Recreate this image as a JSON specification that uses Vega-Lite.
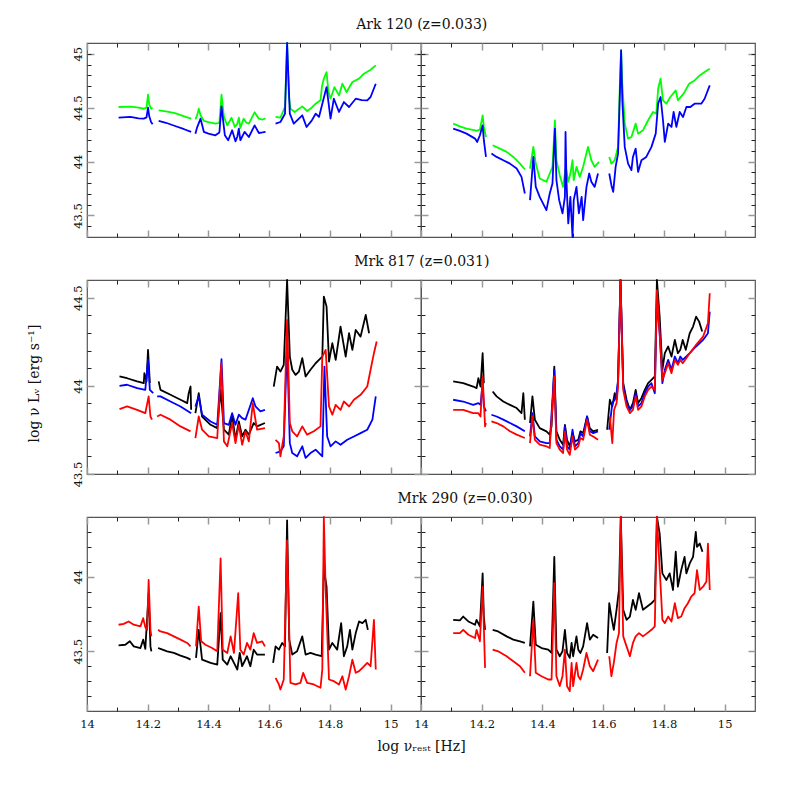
{
"$schema":"https://vega.github.io/schema/vega-lite/v6.json",
"padding":{"left":26,"top":17,"right":10,"bottom":10},
"background":"white",
"config":{"view":{"stroke":"#555","strokeWidth":1.2},"axis":{"domain":false,"grid":false,"minExtent":0,"labelFont":"DejaVu Serif","labelFontSize":11.5,"labelColor":"#111","titleFont":"DejaVu Serif","titleFontSize":14,"titleFontWeight":"normal","titleColor":"#111","labelOverlap":false,"labelFlush":false,"format":"~g"},"line":{"strokeWidth":1.8,"clip":true,"strokeJoin":"round"}},
"datasets":{
"A1":[
{"s":"g","k":"g1","x":14.104,"y":44.506},{"s":"g","k":"g1","x":14.143,"y":44.51},{"s":"g","k":"g1","x":14.17,"y":44.5},{"s":"g","k":"g1","x":14.187,"y":44.49},{"s":"g","k":"g1","x":14.196,"y":44.5},{"s":"g","k":"g1","x":14.201,"y":44.62},{"s":"g","k":"g1","x":14.205,"y":44.53},{"s":"g","k":"g1","x":14.211,"y":44.49},{"s":"g","k":"g1","x":14.216,"y":44.5},
{"s":"g","k":"g2","x":14.236,"y":44.475},{"s":"g","k":"g2","x":14.26,"y":44.465},{"s":"g","k":"g2","x":14.29,"y":44.45},{"s":"g","k":"g2","x":14.32,"y":44.42},{"s":"g","k":"g2","x":14.343,"y":44.398},
{"s":"g","k":"g3","x":14.357,"y":44.392},{"s":"g","k":"g3","x":14.363,"y":44.43},{"s":"g","k":"g3","x":14.368,"y":44.49},{"s":"g","k":"g3","x":14.374,"y":44.43},{"s":"g","k":"g3","x":14.385,"y":44.377},{"s":"g","k":"g3","x":14.4,"y":44.365},{"s":"g","k":"g3","x":14.423,"y":44.352},{"s":"g","k":"g3","x":14.436,"y":44.36},{"s":"g","k":"g3","x":14.443,"y":44.62},{"s":"g","k":"g3","x":14.451,"y":44.414},{"s":"g","k":"g3","x":14.462,"y":44.336},{"s":"g","k":"g3","x":14.476,"y":44.407},{"s":"g","k":"g3","x":14.487,"y":44.321},{"s":"g","k":"g3","x":14.495,"y":44.35},{"s":"g","k":"g3","x":14.5,"y":44.407},{"s":"g","k":"g3","x":14.505,"y":44.312},{"s":"g","k":"g3","x":14.516,"y":44.398},{"s":"g","k":"g3","x":14.525,"y":44.36},{"s":"g","k":"g3","x":14.533,"y":44.352},{"s":"g","k":"g3","x":14.552,"y":44.457},{"s":"g","k":"g3","x":14.566,"y":44.398},{"s":"g","k":"g3","x":14.578,"y":44.39},{"s":"g","k":"g3","x":14.588,"y":44.4},
{"s":"g","k":"g4","x":14.621,"y":44.414},{"s":"g","k":"g4","x":14.637,"y":44.407},{"s":"g","k":"g4","x":14.652,"y":44.506},{"s":"g","k":"g4","x":14.659,"y":45.1},{"s":"g","k":"g4","x":14.665,"y":44.6},{"s":"g","k":"g4","x":14.67,"y":44.491},{"s":"g","k":"g4","x":14.684,"y":44.46},{"s":"g","k":"g4","x":14.709,"y":44.512},{"s":"g","k":"g4","x":14.725,"y":44.469},{"s":"g","k":"g4","x":14.74,"y":44.5},{"s":"g","k":"g4","x":14.753,"y":44.537},{"s":"g","k":"g4","x":14.769,"y":44.568},{"s":"g","k":"g4","x":14.774,"y":44.7},{"s":"g","k":"g4","x":14.78,"y":44.769},{"s":"g","k":"g4","x":14.789,"y":44.83},{"s":"g","k":"g4","x":14.795,"y":44.65},{"s":"g","k":"g4","x":14.802,"y":44.583},{"s":"g","k":"g4","x":14.815,"y":44.691},{"s":"g","k":"g4","x":14.83,"y":44.614},{"s":"g","k":"g4","x":14.841,"y":44.722},{"s":"g","k":"g4","x":14.855,"y":44.645},{"s":"g","k":"g4","x":14.874,"y":44.738},{"s":"g","k":"g4","x":14.896,"y":44.769},{"s":"g","k":"g4","x":14.912,"y":44.815},{"s":"g","k":"g4","x":14.934,"y":44.852},{"s":"g","k":"g4","x":14.951,"y":44.892},
{"s":"b","k":"b1","x":14.104,"y":44.407},{"s":"b","k":"b1","x":14.143,"y":44.414},{"s":"b","k":"b1","x":14.17,"y":44.4},{"s":"b","k":"b1","x":14.187,"y":44.398},{"s":"b","k":"b1","x":14.196,"y":44.41},{"s":"b","k":"b1","x":14.201,"y":44.5},{"s":"b","k":"b1","x":14.205,"y":44.42},{"s":"b","k":"b1","x":14.211,"y":44.367},{"s":"b","k":"b1","x":14.216,"y":44.346},
{"s":"b","k":"b2","x":14.236,"y":44.377},{"s":"b","k":"b2","x":14.26,"y":44.36},{"s":"b","k":"b2","x":14.29,"y":44.33},{"s":"b","k":"b2","x":14.32,"y":44.3},{"s":"b","k":"b2","x":14.343,"y":44.275},
{"s":"b","k":"b3","x":14.357,"y":44.259},{"s":"b","k":"b3","x":14.363,"y":44.32},{"s":"b","k":"b3","x":14.374,"y":44.398},{"s":"b","k":"b3","x":14.385,"y":44.275},{"s":"b","k":"b3","x":14.4,"y":44.26},{"s":"b","k":"b3","x":14.423,"y":44.244},{"s":"b","k":"b3","x":14.436,"y":44.27},{"s":"b","k":"b3","x":14.443,"y":44.512},{"s":"b","k":"b3","x":14.454,"y":44.244},{"s":"b","k":"b3","x":14.465,"y":44.198},{"s":"b","k":"b3","x":14.478,"y":44.29},{"s":"b","k":"b3","x":14.489,"y":44.188},{"s":"b","k":"b3","x":14.495,"y":44.23},{"s":"b","k":"b3","x":14.5,"y":44.306},{"s":"b","k":"b3","x":14.505,"y":44.198},{"s":"b","k":"b3","x":14.519,"y":44.275},{"s":"b","k":"b3","x":14.533,"y":44.228},{"s":"b","k":"b3","x":14.552,"y":44.336},{"s":"b","k":"b3","x":14.566,"y":44.265},{"s":"b","k":"b3","x":14.578,"y":44.27},{"s":"b","k":"b3","x":14.588,"y":44.275},
{"s":"b","k":"b4","x":14.621,"y":44.352},{"s":"b","k":"b4","x":14.637,"y":44.367},{"s":"b","k":"b4","x":14.652,"y":44.444},{"s":"b","k":"b4","x":14.659,"y":45.1},{"s":"b","k":"b4","x":14.668,"y":44.444},{"s":"b","k":"b4","x":14.681,"y":44.352},{"s":"b","k":"b4","x":14.709,"y":44.429},{"s":"b","k":"b4","x":14.723,"y":44.321},{"s":"b","k":"b4","x":14.74,"y":44.38},{"s":"b","k":"b4","x":14.753,"y":44.444},{"s":"b","k":"b4","x":14.764,"y":44.414},{"s":"b","k":"b4","x":14.778,"y":44.568},{"s":"b","k":"b4","x":14.789,"y":44.691},{"s":"b","k":"b4","x":14.802,"y":44.398},{"s":"b","k":"b4","x":14.813,"y":44.583},{"s":"b","k":"b4","x":14.83,"y":44.46},{"s":"b","k":"b4","x":14.846,"y":44.552},{"s":"b","k":"b4","x":14.863,"y":44.506},{"s":"b","k":"b4","x":14.885,"y":44.583},{"s":"b","k":"b4","x":14.905,"y":44.57},{"s":"b","k":"b4","x":14.923,"y":44.568},{"s":"b","k":"b4","x":14.934,"y":44.599},{"s":"b","k":"b4","x":14.951,"y":44.722}
],
"A2":[
{"s":"g","k":"g1","x":14.106,"y":44.352},{"s":"g","k":"g1","x":14.128,"y":44.327},{"s":"g","k":"g1","x":14.15,"y":44.306},{"s":"g","k":"g1","x":14.178,"y":44.29},{"s":"g","k":"g1","x":14.183,"y":44.284},{"s":"g","k":"g1","x":14.194,"y":44.296},{"s":"g","k":"g1","x":14.203,"y":44.429},{"s":"g","k":"g1","x":14.207,"y":44.321},{"s":"g","k":"g1","x":14.214,"y":44.228},
{"s":"g","k":"g2","x":14.236,"y":44.151},{"s":"g","k":"g2","x":14.26,"y":44.12},{"s":"g","k":"g2","x":14.282,"y":44.09},{"s":"g","k":"g2","x":14.304,"y":44.043},{"s":"g","k":"g2","x":14.326,"y":43.981},{"s":"g","k":"g2","x":14.342,"y":43.926},
{"s":"g","k":"g3","x":14.359,"y":43.935},{"s":"g","k":"g3","x":14.37,"y":44.136},{"s":"g","k":"g3","x":14.378,"y":43.981},{"s":"g","k":"g3","x":14.391,"y":43.843},{"s":"g","k":"g3","x":14.413,"y":43.812},{"s":"g","k":"g3","x":14.424,"y":43.889},{"s":"g","k":"g3","x":14.433,"y":43.951},{"s":"g","k":"g3","x":14.441,"y":44.383},{"s":"g","k":"g3","x":14.446,"y":44.012},{"s":"g","k":"g3","x":14.457,"y":43.873},{"s":"g","k":"g3","x":14.468,"y":43.765},{"s":"g","k":"g3","x":14.477,"y":43.951},{"s":"g","k":"g3","x":14.485,"y":43.812},{"s":"g","k":"g3","x":14.492,"y":43.889},{"s":"g","k":"g3","x":14.499,"y":44.012},{"s":"g","k":"g3","x":14.503,"y":43.827},{"s":"g","k":"g3","x":14.512,"y":43.951},{"s":"g","k":"g3","x":14.523,"y":43.858},{"s":"g","k":"g3","x":14.534,"y":43.951},{"s":"g","k":"g3","x":14.55,"y":44.136},{"s":"g","k":"g3","x":14.561,"y":44.012},{"s":"g","k":"g3","x":14.572,"y":43.951},{"s":"g","k":"g3","x":14.586,"y":43.997},
{"s":"g","k":"g4","x":14.62,"y":44.043},{"s":"g","k":"g4","x":14.627,"y":43.981},{"s":"g","k":"g4","x":14.638,"y":44.012},{"s":"g","k":"g4","x":14.649,"y":44.136},{"s":"g","k":"g4","x":14.655,"y":44.722},{"s":"g","k":"g4","x":14.659,"y":45.037},{"s":"g","k":"g4","x":14.663,"y":44.722},{"s":"g","k":"g4","x":14.671,"y":44.352},{"s":"g","k":"g4","x":14.682,"y":44.213},{"s":"g","k":"g4","x":14.693,"y":44.228},{"s":"g","k":"g4","x":14.707,"y":44.352},{"s":"g","k":"g4","x":14.715,"y":44.259},{"s":"g","k":"g4","x":14.731,"y":44.29},{"s":"g","k":"g4","x":14.748,"y":44.383},{"s":"g","k":"g4","x":14.764,"y":44.46},{"s":"g","k":"g4","x":14.775,"y":44.444},{"s":"g","k":"g4","x":14.781,"y":44.676},{"s":"g","k":"g4","x":14.789,"y":44.769},{"s":"g","k":"g4","x":14.797,"y":44.568},{"s":"g","k":"g4","x":14.808,"y":44.537},{"s":"g","k":"g4","x":14.821,"y":44.599},{"s":"g","k":"g4","x":14.839,"y":44.66},{"s":"g","k":"g4","x":14.846,"y":44.568},{"s":"g","k":"g4","x":14.865,"y":44.63},{"s":"g","k":"g4","x":14.883,"y":44.722},{"s":"g","k":"g4","x":14.901,"y":44.753},{"s":"g","k":"g4","x":14.918,"y":44.799},{"s":"g","k":"g4","x":14.934,"y":44.83},{"s":"g","k":"g4","x":14.951,"y":44.861},
{"s":"b","k":"b1","x":14.106,"y":44.306},{"s":"b","k":"b1","x":14.128,"y":44.284},{"s":"b","k":"b1","x":14.15,"y":44.259},{"s":"b","k":"b1","x":14.178,"y":44.213},{"s":"b","k":"b1","x":14.185,"y":44.182},{"s":"b","k":"b1","x":14.194,"y":44.244},{"s":"b","k":"b1","x":14.203,"y":44.336},{"s":"b","k":"b1","x":14.207,"y":44.198},{"s":"b","k":"b1","x":14.214,"y":44.043},
{"s":"b","k":"b2","x":14.232,"y":44.074},{"s":"b","k":"b2","x":14.249,"y":44.043},{"s":"b","k":"b2","x":14.271,"y":44.012},{"s":"b","k":"b2","x":14.293,"y":43.981},{"s":"b","k":"b2","x":14.315,"y":43.935},{"s":"b","k":"b2","x":14.331,"y":43.858},{"s":"b","k":"b2","x":14.342,"y":43.704},
{"s":"b","k":"b3","x":14.359,"y":43.642},{"s":"b","k":"b3","x":14.37,"y":44.043},{"s":"b","k":"b3","x":14.378,"y":43.765},{"s":"b","k":"b3","x":14.391,"y":43.673},{"s":"b","k":"b3","x":14.413,"y":43.549},{"s":"b","k":"b3","x":14.424,"y":43.704},{"s":"b","k":"b3","x":14.433,"y":43.796},{"s":"b","k":"b3","x":14.441,"y":44.306},{"s":"b","k":"b3","x":14.446,"y":43.827},{"s":"b","k":"b3","x":14.455,"y":43.642},{"s":"b","k":"b3","x":14.466,"y":43.519},{"s":"b","k":"b3","x":14.474,"y":43.673},{"s":"b","k":"b3","x":14.476,"y":44.275},{"s":"b","k":"b3","x":14.479,"y":43.827},{"s":"b","k":"b3","x":14.485,"y":43.426},{"s":"b","k":"b3","x":14.492,"y":43.673},{"s":"b","k":"b3","x":14.499,"y":43.3},{"s":"b","k":"b3","x":14.503,"y":43.642},{"s":"b","k":"b3","x":14.512,"y":43.765},{"s":"b","k":"b3","x":14.52,"y":43.519},{"s":"b","k":"b3","x":14.529,"y":43.673},{"s":"b","k":"b3","x":14.534,"y":43.457},{"s":"b","k":"b3","x":14.545,"y":43.765},{"s":"b","k":"b3","x":14.554,"y":43.889},{"s":"b","k":"b3","x":14.561,"y":43.812},{"s":"b","k":"b3","x":14.572,"y":43.765},{"s":"b","k":"b3","x":14.583,"y":43.889},
{"s":"b","k":"b4","x":14.62,"y":43.889},{"s":"b","k":"b4","x":14.627,"y":43.781},{"s":"b","k":"b4","x":14.633,"y":43.719},{"s":"b","k":"b4","x":14.641,"y":43.951},{"s":"b","k":"b4","x":14.649,"y":44.074},{"s":"b","k":"b4","x":14.655,"y":44.63},{"s":"b","k":"b4","x":14.659,"y":45.031},{"s":"b","k":"b4","x":14.663,"y":44.568},{"s":"b","k":"b4","x":14.671,"y":44.136},{"s":"b","k":"b4","x":14.682,"y":43.981},{"s":"b","k":"b4","x":14.693,"y":43.92},{"s":"b","k":"b4","x":14.698,"y":44.043},{"s":"b","k":"b4","x":14.707,"y":44.12},{"s":"b","k":"b4","x":14.715,"y":43.904},{"s":"b","k":"b4","x":14.726,"y":44.012},{"s":"b","k":"b4","x":14.742,"y":44.043},{"s":"b","k":"b4","x":14.759,"y":44.136},{"s":"b","k":"b4","x":14.773,"y":44.259},{"s":"b","k":"b4","x":14.781,"y":44.537},{"s":"b","k":"b4","x":14.789,"y":44.599},{"s":"b","k":"b4","x":14.797,"y":44.383},{"s":"b","k":"b4","x":14.803,"y":44.182},{"s":"b","k":"b4","x":14.814,"y":44.352},{"s":"b","k":"b4","x":14.825,"y":44.321},{"s":"b","k":"b4","x":14.832,"y":44.46},{"s":"b","k":"b4","x":14.841,"y":44.321},{"s":"b","k":"b4","x":14.852,"y":44.46},{"s":"b","k":"b4","x":14.863,"y":44.414},{"s":"b","k":"b4","x":14.874,"y":44.506},{"s":"b","k":"b4","x":14.887,"y":44.506},{"s":"b","k":"b4","x":14.901,"y":44.537},{"s":"b","k":"b4","x":14.923,"y":44.537},{"s":"b","k":"b4","x":14.934,"y":44.583},{"s":"b","k":"b4","x":14.951,"y":44.707}
],
"B1":[
{"s":"k","k":"k1","x":14.107,"y":44.053},{"s":"k","k":"k1","x":14.132,"y":44.043},{"s":"k","k":"k1","x":14.165,"y":44.025},{"s":"k","k":"k1","x":14.187,"y":44.015},{"s":"k","k":"k1","x":14.189,"y":44.072},{"s":"k","k":"k1","x":14.196,"y":44.025},{"s":"k","k":"k1","x":14.201,"y":44.204},{"s":"k","k":"k1","x":14.207,"y":44.015},
{"s":"k","k":"k2","x":14.236,"y":44.025},{"s":"k","k":"k2","x":14.242,"y":43.977},{"s":"k","k":"k2","x":14.275,"y":43.949},{"s":"k","k":"k2","x":14.308,"y":43.921},{"s":"k","k":"k2","x":14.33,"y":43.902},{"s":"k","k":"k2","x":14.335,"y":43.958},{"s":"k","k":"k2","x":14.341,"y":43.996},{"s":"k","k":"k2","x":14.343,"y":43.864},
{"s":"k","k":"k3","x":14.357,"y":43.845},{"s":"k","k":"k3","x":14.368,"y":43.958},{"s":"k","k":"k3","x":14.379,"y":43.826},{"s":"k","k":"k3","x":14.407,"y":43.779},{"s":"k","k":"k3","x":14.429,"y":43.76},{"s":"k","k":"k3","x":14.44,"y":43.977},{"s":"k","k":"k3","x":14.451,"y":43.751},{"s":"k","k":"k3","x":14.467,"y":43.723},{"s":"k","k":"k3","x":14.478,"y":43.836},{"s":"k","k":"k3","x":14.489,"y":43.694},{"s":"k","k":"k3","x":14.5,"y":43.798},{"s":"k","k":"k3","x":14.511,"y":43.713},{"s":"k","k":"k3","x":14.522,"y":43.751},{"s":"k","k":"k3","x":14.533,"y":43.723},{"s":"k","k":"k3","x":14.549,"y":43.789},{"s":"k","k":"k3","x":14.56,"y":43.77},{"s":"k","k":"k3","x":14.586,"y":43.789},
{"s":"k","k":"k4","x":14.615,"y":43.996},{"s":"k","k":"k4","x":14.626,"y":44.109},{"s":"k","k":"k4","x":14.637,"y":44.081},{"s":"k","k":"k4","x":14.648,"y":44.119},{"s":"k","k":"k4","x":14.659,"y":44.6},{"s":"k","k":"k4","x":14.668,"y":44.166},{"s":"k","k":"k4","x":14.676,"y":44.091},{"s":"k","k":"k4","x":14.687,"y":44.062},{"s":"k","k":"k4","x":14.698,"y":44.081},{"s":"k","k":"k4","x":14.709,"y":44.157},{"s":"k","k":"k4","x":14.72,"y":44.053},{"s":"k","k":"k4","x":14.736,"y":44.091},{"s":"k","k":"k4","x":14.753,"y":44.128},{"s":"k","k":"k4","x":14.764,"y":44.147},{"s":"k","k":"k4","x":14.775,"y":44.166},{"s":"k","k":"k4","x":14.78,"y":44.506},{"s":"k","k":"k4","x":14.789,"y":44.449},{"s":"k","k":"k4","x":14.797,"y":44.138},{"s":"k","k":"k4","x":14.808,"y":44.242},{"s":"k","k":"k4","x":14.819,"y":44.147},{"s":"k","k":"k4","x":14.835,"y":44.336},{"s":"k","k":"k4","x":14.852,"y":44.166},{"s":"k","k":"k4","x":14.863,"y":44.298},{"s":"k","k":"k4","x":14.874,"y":44.204},{"s":"k","k":"k4","x":14.885,"y":44.317},{"s":"k","k":"k4","x":14.901,"y":44.279},{"s":"k","k":"k4","x":14.918,"y":44.402},{"s":"k","k":"k4","x":14.929,"y":44.298},
{"s":"b","k":"b1","x":14.107,"y":44.0},{"s":"b","k":"b1","x":14.132,"y":44.006},{"s":"b","k":"b1","x":14.165,"y":43.987},{"s":"b","k":"b1","x":14.192,"y":43.977},{"s":"b","k":"b1","x":14.201,"y":44.147},{"s":"b","k":"b1","x":14.207,"y":43.977},{"s":"b","k":"b1","x":14.218,"y":43.958},
{"s":"b","k":"b2","x":14.231,"y":43.94},{"s":"b","k":"b2","x":14.242,"y":43.94},{"s":"b","k":"b2","x":14.275,"y":43.911},{"s":"b","k":"b2","x":14.308,"y":43.883},{"s":"b","k":"b2","x":14.343,"y":43.845},
{"s":"b","k":"b3","x":14.357,"y":43.883},{"s":"b","k":"b3","x":14.368,"y":43.94},{"s":"b","k":"b3","x":14.379,"y":43.836},{"s":"b","k":"b3","x":14.407,"y":43.798},{"s":"b","k":"b3","x":14.429,"y":43.779},{"s":"b","k":"b3","x":14.443,"y":44.151},{"s":"b","k":"b3","x":14.451,"y":43.789},{"s":"b","k":"b3","x":14.467,"y":43.779},{"s":"b","k":"b3","x":14.478,"y":43.845},{"s":"b","k":"b3","x":14.489,"y":43.779},{"s":"b","k":"b3","x":14.5,"y":43.836},{"s":"b","k":"b3","x":14.511,"y":43.817},{"s":"b","k":"b3","x":14.522,"y":43.808},{"s":"b","k":"b3","x":14.546,"y":43.93},{"s":"b","k":"b3","x":14.555,"y":43.883},{"s":"b","k":"b3","x":14.571,"y":43.855},{"s":"b","k":"b3","x":14.586,"y":43.864},
{"s":"b","k":"b4","x":14.621,"y":43.619},{"s":"b","k":"b4","x":14.637,"y":43.628},{"s":"b","k":"b4","x":14.648,"y":43.657},{"s":"b","k":"b4","x":14.659,"y":44.242},{"s":"b","k":"b4","x":14.668,"y":43.675},{"s":"b","k":"b4","x":14.676,"y":43.619},{"s":"b","k":"b4","x":14.692,"y":43.6},{"s":"b","k":"b4","x":14.709,"y":43.657},{"s":"b","k":"b4","x":14.72,"y":43.591},{"s":"b","k":"b4","x":14.736,"y":43.619},{"s":"b","k":"b4","x":14.753,"y":43.638},{"s":"b","k":"b4","x":14.775,"y":43.6},{"s":"b","k":"b4","x":14.782,"y":44.109},{"s":"b","k":"b4","x":14.791,"y":43.713},{"s":"b","k":"b4","x":14.802,"y":43.657},{"s":"b","k":"b4","x":14.819,"y":43.685},{"s":"b","k":"b4","x":14.835,"y":43.666},{"s":"b","k":"b4","x":14.857,"y":43.694},{"s":"b","k":"b4","x":14.879,"y":43.713},{"s":"b","k":"b4","x":14.901,"y":43.732},{"s":"b","k":"b4","x":14.923,"y":43.751},{"s":"b","k":"b4","x":14.94,"y":43.808},{"s":"b","k":"b4","x":14.951,"y":43.94},
{"s":"r","k":"r1","x":14.107,"y":43.868},{"s":"r","k":"r1","x":14.132,"y":43.883},{"s":"r","k":"r1","x":14.165,"y":43.864},{"s":"r","k":"r1","x":14.192,"y":43.845},{"s":"r","k":"r1","x":14.203,"y":43.94},{"s":"r","k":"r1","x":14.209,"y":43.826},{"s":"r","k":"r1","x":14.214,"y":43.808},
{"s":"r","k":"r2","x":14.231,"y":43.826},{"s":"r","k":"r2","x":14.242,"y":43.836},{"s":"r","k":"r2","x":14.275,"y":43.808},{"s":"r","k":"r2","x":14.308,"y":43.77},{"s":"r","k":"r2","x":14.341,"y":43.742},
{"s":"r","k":"r3","x":14.357,"y":43.704},{"s":"r","k":"r3","x":14.368,"y":43.826},{"s":"r","k":"r3","x":14.379,"y":43.751},{"s":"r","k":"r3","x":14.401,"y":43.713},{"s":"r","k":"r3","x":14.429,"y":43.704},{"s":"r","k":"r3","x":14.442,"y":44.128},{"s":"r","k":"r3","x":14.451,"y":43.685},{"s":"r","k":"r3","x":14.462,"y":43.657},{"s":"r","k":"r3","x":14.478,"y":43.789},{"s":"r","k":"r3","x":14.489,"y":43.675},{"s":"r","k":"r3","x":14.5,"y":43.779},{"s":"r","k":"r3","x":14.511,"y":43.666},{"s":"r","k":"r3","x":14.522,"y":43.742},{"s":"r","k":"r3","x":14.533,"y":43.685},{"s":"r","k":"r3","x":14.546,"y":43.902},{"s":"r","k":"r3","x":14.56,"y":43.751},{"s":"r","k":"r3","x":14.586,"y":43.76},
{"s":"r","k":"r4","x":14.621,"y":43.694},{"s":"r","k":"r4","x":14.632,"y":43.675},{"s":"r","k":"r4","x":14.637,"y":43.6},{"s":"r","k":"r4","x":14.648,"y":43.713},{"s":"r","k":"r4","x":14.659,"y":44.374},{"s":"r","k":"r4","x":14.668,"y":43.789},{"s":"r","k":"r4","x":14.676,"y":43.742},{"s":"r","k":"r4","x":14.692,"y":43.713},{"s":"r","k":"r4","x":14.709,"y":43.77},{"s":"r","k":"r4","x":14.725,"y":43.723},{"s":"r","k":"r4","x":14.747,"y":43.742},{"s":"r","k":"r4","x":14.769,"y":43.77},{"s":"r","k":"r4","x":14.775,"y":44.166},{"s":"r","k":"r4","x":14.786,"y":44.204},{"s":"r","k":"r4","x":14.797,"y":43.883},{"s":"r","k":"r4","x":14.808,"y":43.836},{"s":"r","k":"r4","x":14.819,"y":43.892},{"s":"r","k":"r4","x":14.835,"y":43.864},{"s":"r","k":"r4","x":14.846,"y":43.911},{"s":"r","k":"r4","x":14.863,"y":43.883},{"s":"r","k":"r4","x":14.879,"y":43.921},{"s":"r","k":"r4","x":14.901,"y":43.949},{"s":"r","k":"r4","x":14.923,"y":43.996},{"s":"r","k":"r4","x":14.934,"y":44.091},{"s":"r","k":"r4","x":14.945,"y":44.185},{"s":"r","k":"r4","x":14.954,"y":44.251}
],
"B2":[
{"s":"k","k":"k1","x":14.106,"y":44.025},{"s":"k","k":"k1","x":14.139,"y":44.015},{"s":"k","k":"k1","x":14.172,"y":43.996},{"s":"k","k":"k1","x":14.183,"y":43.987},{"s":"k","k":"k1","x":14.189,"y":44.043},{"s":"k","k":"k1","x":14.196,"y":43.996},{"s":"k","k":"k1","x":14.203,"y":44.185},{"s":"k","k":"k1","x":14.207,"y":44.015},
{"s":"k","k":"k2","x":14.236,"y":43.968},{"s":"k","k":"k2","x":14.249,"y":43.94},{"s":"k","k":"k2","x":14.271,"y":43.911},{"s":"k","k":"k2","x":14.293,"y":43.892},{"s":"k","k":"k2","x":14.315,"y":43.874},{"s":"k","k":"k2","x":14.331,"y":43.845},{"s":"k","k":"k2","x":14.337,"y":43.958},{"s":"k","k":"k2","x":14.342,"y":43.808},
{"s":"k","k":"k3","x":14.359,"y":43.789},{"s":"k","k":"k3","x":14.367,"y":43.94},{"s":"k","k":"k3","x":14.375,"y":43.808},{"s":"k","k":"k3","x":14.391,"y":43.76},{"s":"k","k":"k3","x":14.413,"y":43.742},{"s":"k","k":"k3","x":14.424,"y":43.723},{"s":"k","k":"k3","x":14.43,"y":43.77},{"s":"k","k":"k3","x":14.439,"y":44.109},{"s":"k","k":"k3","x":14.446,"y":43.742},{"s":"k","k":"k3","x":14.457,"y":43.694},{"s":"k","k":"k3","x":14.468,"y":43.666},{"s":"k","k":"k3","x":14.474,"y":43.779},{"s":"k","k":"k3","x":14.481,"y":43.694},{"s":"k","k":"k3","x":14.49,"y":43.657},{"s":"k","k":"k3","x":14.499,"y":43.732},{"s":"k","k":"k3","x":14.507,"y":43.685},{"s":"k","k":"k3","x":14.518,"y":43.694},{"s":"k","k":"k3","x":14.525,"y":43.742},{"s":"k","k":"k3","x":14.534,"y":43.732},{"s":"k","k":"k3","x":14.547,"y":43.826},{"s":"k","k":"k3","x":14.556,"y":43.76},{"s":"k","k":"k3","x":14.567,"y":43.742},{"s":"k","k":"k3","x":14.583,"y":43.751},
{"s":"k","k":"k4","x":14.613,"y":43.751},{"s":"k","k":"k4","x":14.622,"y":43.921},{"s":"k","k":"k4","x":14.63,"y":43.883},{"s":"k","k":"k4","x":14.638,"y":43.958},{"s":"k","k":"k4","x":14.644,"y":43.921},{"s":"k","k":"k4","x":14.649,"y":44.025},{"s":"k","k":"k4","x":14.657,"y":44.6},{"s":"k","k":"k4","x":14.666,"y":44.015},{"s":"k","k":"k4","x":14.677,"y":43.921},{"s":"k","k":"k4","x":14.688,"y":43.864},{"s":"k","k":"k4","x":14.698,"y":43.902},{"s":"k","k":"k4","x":14.707,"y":43.977},{"s":"k","k":"k4","x":14.715,"y":43.902},{"s":"k","k":"k4","x":14.726,"y":43.93},{"s":"k","k":"k4","x":14.737,"y":43.977},{"s":"k","k":"k4","x":14.748,"y":44.015},{"s":"k","k":"k4","x":14.759,"y":44.034},{"s":"k","k":"k4","x":14.77,"y":44.053},{"s":"k","k":"k4","x":14.777,"y":44.6},{"s":"k","k":"k4","x":14.786,"y":44.392},{"s":"k","k":"k4","x":14.795,"y":44.091},{"s":"k","k":"k4","x":14.803,"y":44.185},{"s":"k","k":"k4","x":14.814,"y":44.223},{"s":"k","k":"k4","x":14.825,"y":44.166},{"s":"k","k":"k4","x":14.836,"y":44.26},{"s":"k","k":"k4","x":14.846,"y":44.185},{"s":"k","k":"k4","x":14.854,"y":44.204},{"s":"k","k":"k4","x":14.862,"y":44.26},{"s":"k","k":"k4","x":14.872,"y":44.204},{"s":"k","k":"k4","x":14.885,"y":44.298},{"s":"k","k":"k4","x":14.896,"y":44.336},{"s":"k","k":"k4","x":14.906,"y":44.392},{"s":"k","k":"k4","x":14.916,"y":44.364},{"s":"k","k":"k4","x":14.926,"y":44.308},
{"s":"b","k":"b1","x":14.106,"y":43.921},{"s":"b","k":"b1","x":14.139,"y":43.911},{"s":"b","k":"b1","x":14.172,"y":43.892},{"s":"b","k":"b1","x":14.189,"y":43.902},{"s":"b","k":"b1","x":14.196,"y":43.892},{"s":"b","k":"b1","x":14.203,"y":44.015},{"s":"b","k":"b1","x":14.207,"y":43.883},{"s":"b","k":"b1","x":14.214,"y":43.855},
{"s":"b","k":"b2","x":14.232,"y":43.836},{"s":"b","k":"b2","x":14.249,"y":43.826},{"s":"b","k":"b2","x":14.271,"y":43.808},{"s":"b","k":"b2","x":14.293,"y":43.789},{"s":"b","k":"b2","x":14.315,"y":43.77},{"s":"b","k":"b2","x":14.342,"y":43.742},
{"s":"b","k":"b3","x":14.359,"y":43.713},{"s":"b","k":"b3","x":14.367,"y":43.845},{"s":"b","k":"b3","x":14.375,"y":43.713},{"s":"b","k":"b3","x":14.391,"y":43.685},{"s":"b","k":"b3","x":14.413,"y":43.675},{"s":"b","k":"b3","x":14.424,"y":43.675},{"s":"b","k":"b3","x":14.439,"y":44.091},{"s":"b","k":"b3","x":14.446,"y":43.694},{"s":"b","k":"b3","x":14.457,"y":43.657},{"s":"b","k":"b3","x":14.468,"y":43.638},{"s":"b","k":"b3","x":14.474,"y":43.77},{"s":"b","k":"b3","x":14.481,"y":43.657},{"s":"b","k":"b3","x":14.49,"y":43.638},{"s":"b","k":"b3","x":14.499,"y":43.751},{"s":"b","k":"b3","x":14.507,"y":43.657},{"s":"b","k":"b3","x":14.518,"y":43.675},{"s":"b","k":"b3","x":14.525,"y":43.732},{"s":"b","k":"b3","x":14.534,"y":43.713},{"s":"b","k":"b3","x":14.547,"y":43.826},{"s":"b","k":"b3","x":14.556,"y":43.742},{"s":"b","k":"b3","x":14.567,"y":43.732},{"s":"b","k":"b3","x":14.583,"y":43.742},
{"s":"b","k":"b4","x":14.62,"y":43.751},{"s":"b","k":"b4","x":14.63,"y":43.902},{"s":"b","k":"b4","x":14.638,"y":43.921},{"s":"b","k":"b4","x":14.644,"y":43.958},{"s":"b","k":"b4","x":14.649,"y":44.034},{"s":"b","k":"b4","x":14.657,"y":44.6},{"s":"b","k":"b4","x":14.666,"y":43.996},{"s":"b","k":"b4","x":14.677,"y":43.902},{"s":"b","k":"b4","x":14.688,"y":43.864},{"s":"b","k":"b4","x":14.698,"y":43.883},{"s":"b","k":"b4","x":14.707,"y":43.958},{"s":"b","k":"b4","x":14.715,"y":43.883},{"s":"b","k":"b4","x":14.726,"y":43.902},{"s":"b","k":"b4","x":14.737,"y":43.958},{"s":"b","k":"b4","x":14.748,"y":43.996},{"s":"b","k":"b4","x":14.759,"y":44.015},{"s":"b","k":"b4","x":14.77,"y":43.958},{"s":"b","k":"b4","x":14.777,"y":44.487},{"s":"b","k":"b4","x":14.786,"y":44.298},{"s":"b","k":"b4","x":14.795,"y":44.015},{"s":"b","k":"b4","x":14.803,"y":44.091},{"s":"b","k":"b4","x":14.814,"y":44.147},{"s":"b","k":"b4","x":14.825,"y":44.091},{"s":"b","k":"b4","x":14.836,"y":44.166},{"s":"b","k":"b4","x":14.846,"y":44.128},{"s":"b","k":"b4","x":14.854,"y":44.166},{"s":"b","k":"b4","x":14.862,"y":44.147},{"s":"b","k":"b4","x":14.885,"y":44.185},{"s":"b","k":"b4","x":14.906,"y":44.223},{"s":"b","k":"b4","x":14.929,"y":44.26},{"s":"b","k":"b4","x":14.945,"y":44.298},{"s":"b","k":"b4","x":14.951,"y":44.421},
{"s":"r","k":"r1","x":14.106,"y":43.864},{"s":"r","k":"r1","x":14.139,"y":43.864},{"s":"r","k":"r1","x":14.172,"y":43.845},{"s":"r","k":"r1","x":14.189,"y":43.845},{"s":"r","k":"r1","x":14.196,"y":43.826},{"s":"r","k":"r1","x":14.203,"y":44.053},{"s":"r","k":"r1","x":14.211,"y":43.77},{"s":"r","k":"r1","x":14.214,"y":43.789},
{"s":"r","k":"r2","x":14.232,"y":43.798},{"s":"r","k":"r2","x":14.249,"y":43.789},{"s":"r","k":"r2","x":14.271,"y":43.77},{"s":"r","k":"r2","x":14.293,"y":43.742},{"s":"r","k":"r2","x":14.315,"y":43.723},{"s":"r","k":"r2","x":14.342,"y":43.704},
{"s":"r","k":"r3","x":14.359,"y":43.675},{"s":"r","k":"r3","x":14.367,"y":43.826},{"s":"r","k":"r3","x":14.375,"y":43.694},{"s":"r","k":"r3","x":14.391,"y":43.666},{"s":"r","k":"r3","x":14.413,"y":43.657},{"s":"r","k":"r3","x":14.424,"y":43.647},{"s":"r","k":"r3","x":14.439,"y":44.053},{"s":"r","k":"r3","x":14.446,"y":43.675},{"s":"r","k":"r3","x":14.457,"y":43.638},{"s":"r","k":"r3","x":14.468,"y":43.619},{"s":"r","k":"r3","x":14.474,"y":43.742},{"s":"r","k":"r3","x":14.481,"y":43.638},{"s":"r","k":"r3","x":14.49,"y":43.609},{"s":"r","k":"r3","x":14.499,"y":43.713},{"s":"r","k":"r3","x":14.507,"y":43.638},{"s":"r","k":"r3","x":14.518,"y":43.657},{"s":"r","k":"r3","x":14.525,"y":43.704},{"s":"r","k":"r3","x":14.534,"y":43.694},{"s":"r","k":"r3","x":14.547,"y":43.808},{"s":"r","k":"r3","x":14.556,"y":43.723},{"s":"r","k":"r3","x":14.567,"y":43.713},{"s":"r","k":"r3","x":14.583,"y":43.694},
{"s":"r","k":"r4","x":14.622,"y":43.826},{"s":"r","k":"r4","x":14.63,"y":43.675},{"s":"r","k":"r4","x":14.636,"y":43.864},{"s":"r","k":"r4","x":14.644,"y":43.902},{"s":"r","k":"r4","x":14.649,"y":43.996},{"s":"r","k":"r4","x":14.657,"y":44.6},{"s":"r","k":"r4","x":14.666,"y":43.977},{"s":"r","k":"r4","x":14.677,"y":43.883},{"s":"r","k":"r4","x":14.688,"y":43.845},{"s":"r","k":"r4","x":14.698,"y":43.864},{"s":"r","k":"r4","x":14.707,"y":43.94},{"s":"r","k":"r4","x":14.715,"y":43.864},{"s":"r","k":"r4","x":14.726,"y":43.883},{"s":"r","k":"r4","x":14.737,"y":43.94},{"s":"r","k":"r4","x":14.748,"y":43.977},{"s":"r","k":"r4","x":14.759,"y":43.996},{"s":"r","k":"r4","x":14.77,"y":43.977},{"s":"r","k":"r4","x":14.777,"y":44.543},{"s":"r","k":"r4","x":14.786,"y":44.298},{"s":"r","k":"r4","x":14.795,"y":44.034},{"s":"r","k":"r4","x":14.803,"y":44.072},{"s":"r","k":"r4","x":14.814,"y":44.128},{"s":"r","k":"r4","x":14.825,"y":44.072},{"s":"r","k":"r4","x":14.836,"y":44.147},{"s":"r","k":"r4","x":14.846,"y":44.119},{"s":"r","k":"r4","x":14.854,"y":44.147},{"s":"r","k":"r4","x":14.862,"y":44.128},{"s":"r","k":"r4","x":14.885,"y":44.185},{"s":"r","k":"r4","x":14.906,"y":44.232},{"s":"r","k":"r4","x":14.929,"y":44.279},{"s":"r","k":"r4","x":14.945,"y":44.355},{"s":"r","k":"r4","x":14.951,"y":44.525}
],
"C1":[
{"s":"k","k":"k1","x":14.104,"y":43.54},{"s":"k","k":"k1","x":14.126,"y":43.544},{"s":"k","k":"k1","x":14.141,"y":43.567},{"s":"k","k":"k1","x":14.154,"y":43.533},{"s":"k","k":"k1","x":14.176,"y":43.522},{"s":"k","k":"k1","x":14.185,"y":43.578},{"s":"k","k":"k1","x":14.192,"y":43.516},{"s":"k","k":"k1","x":14.203,"y":43.889},{"s":"k","k":"k1","x":14.209,"y":43.533},{"s":"k","k":"k1","x":14.212,"y":43.5},
{"s":"k","k":"k2","x":14.234,"y":43.522},{"s":"k","k":"k2","x":14.242,"y":43.516},{"s":"k","k":"k2","x":14.264,"y":43.5},{"s":"k","k":"k2","x":14.286,"y":43.489},{"s":"k","k":"k2","x":14.308,"y":43.471},{"s":"k","k":"k2","x":14.33,"y":43.456},{"s":"k","k":"k2","x":14.341,"y":43.444},
{"s":"k","k":"k3","x":14.359,"y":43.456},{"s":"k","k":"k3","x":14.368,"y":43.644},{"s":"k","k":"k3","x":14.379,"y":43.444},{"s":"k","k":"k3","x":14.407,"y":43.422},{"s":"k","k":"k3","x":14.429,"y":43.411},{"s":"k","k":"k3","x":14.44,"y":43.756},{"s":"k","k":"k3","x":14.447,"y":43.444},{"s":"k","k":"k3","x":14.462,"y":43.411},{"s":"k","k":"k3","x":14.473,"y":43.467},{"s":"k","k":"k3","x":14.484,"y":43.422},{"s":"k","k":"k3","x":14.495,"y":43.378},{"s":"k","k":"k3","x":14.503,"y":43.489},{"s":"k","k":"k3","x":14.511,"y":43.4},{"s":"k","k":"k3","x":14.527,"y":43.467},{"s":"k","k":"k3","x":14.538,"y":43.4},{"s":"k","k":"k3","x":14.549,"y":43.511},{"s":"k","k":"k3","x":14.56,"y":43.478},{"s":"k","k":"k3","x":14.586,"y":43.478},
{"s":"k","k":"k4","x":14.613,"y":43.422},{"s":"k","k":"k4","x":14.621,"y":43.533},{"s":"k","k":"k4","x":14.632,"y":43.511},{"s":"k","k":"k4","x":14.643,"y":43.556},{"s":"k","k":"k4","x":14.652,"y":43.533},{"s":"k","k":"k4","x":14.659,"y":44.378},{"s":"k","k":"k4","x":14.666,"y":43.578},{"s":"k","k":"k4","x":14.676,"y":43.478},{"s":"k","k":"k4","x":14.692,"y":43.5},{"s":"k","k":"k4","x":14.709,"y":43.6},{"s":"k","k":"k4","x":14.72,"y":43.478},{"s":"k","k":"k4","x":14.736,"y":43.489},{"s":"k","k":"k4","x":14.753,"y":43.478},{"s":"k","k":"k4","x":14.773,"y":43.467},{"s":"k","k":"k4","x":14.78,"y":44.056},{"s":"k","k":"k4","x":14.789,"y":43.933},{"s":"k","k":"k4","x":14.797,"y":43.511},{"s":"k","k":"k4","x":14.808,"y":43.556},{"s":"k","k":"k4","x":14.824,"y":43.511},{"s":"k","k":"k4","x":14.837,"y":43.689},{"s":"k","k":"k4","x":14.846,"y":43.467},{"s":"k","k":"k4","x":14.857,"y":43.533},{"s":"k","k":"k4","x":14.866,"y":43.644},{"s":"k","k":"k4","x":14.874,"y":43.511},{"s":"k","k":"k4","x":14.885,"y":43.622},{"s":"k","k":"k4","x":14.896,"y":43.7},{"s":"k","k":"k4","x":14.907,"y":43.689},{"s":"k","k":"k4","x":14.918,"y":43.711},{"s":"k","k":"k4","x":14.925,"y":43.644},
{"s":"r","k":"r1","x":14.104,"y":43.678},{"s":"r","k":"r1","x":14.121,"y":43.684},{"s":"r","k":"r1","x":14.137,"y":43.7},{"s":"r","k":"r1","x":14.154,"y":43.678},{"s":"r","k":"r1","x":14.176,"y":43.667},{"s":"r","k":"r1","x":14.185,"y":43.722},{"s":"r","k":"r1","x":14.192,"y":43.662},{"s":"r","k":"r1","x":14.198,"y":43.644},{"s":"r","k":"r1","x":14.203,"y":43.978},{"s":"r","k":"r1","x":14.209,"y":43.644},{"s":"r","k":"r1","x":14.212,"y":43.6},
{"s":"r","k":"r2","x":14.234,"y":43.644},{"s":"r","k":"r2","x":14.242,"y":43.633},{"s":"r","k":"r2","x":14.264,"y":43.622},{"s":"r","k":"r2","x":14.286,"y":43.6},{"s":"r","k":"r2","x":14.308,"y":43.578},{"s":"r","k":"r2","x":14.33,"y":43.556},{"s":"r","k":"r2","x":14.341,"y":43.533},
{"s":"r","k":"r3","x":14.359,"y":43.533},{"s":"r","k":"r3","x":14.368,"y":43.8},{"s":"r","k":"r3","x":14.376,"y":43.567},{"s":"r","k":"r3","x":14.39,"y":43.544},{"s":"r","k":"r3","x":14.412,"y":43.522},{"s":"r","k":"r3","x":14.429,"y":43.5},{"s":"r","k":"r3","x":14.44,"y":44.122},{"s":"r","k":"r3","x":14.447,"y":43.511},{"s":"r","k":"r3","x":14.462,"y":43.489},{"s":"r","k":"r3","x":14.473,"y":43.6},{"s":"r","k":"r3","x":14.484,"y":43.489},{"s":"r","k":"r3","x":14.498,"y":43.889},{"s":"r","k":"r3","x":14.505,"y":43.511},{"s":"r","k":"r3","x":14.516,"y":43.478},{"s":"r","k":"r3","x":14.527,"y":43.556},{"s":"r","k":"r3","x":14.538,"y":43.511},{"s":"r","k":"r3","x":14.549,"y":43.622},{"s":"r","k":"r3","x":14.56,"y":43.556},{"s":"r","k":"r3","x":14.577,"y":43.567},{"s":"r","k":"r3","x":14.586,"y":43.533},
{"s":"r","k":"r4","x":14.621,"y":43.322},{"s":"r","k":"r4","x":14.632,"y":43.278},{"s":"r","k":"r4","x":14.637,"y":43.244},{"s":"r","k":"r4","x":14.648,"y":43.311},{"s":"r","k":"r4","x":14.659,"y":44.244},{"s":"r","k":"r4","x":14.67,"y":43.289},{"s":"r","k":"r4","x":14.687,"y":43.278},{"s":"r","k":"r4","x":14.703,"y":43.289},{"s":"r","k":"r4","x":14.712,"y":43.356},{"s":"r","k":"r4","x":14.725,"y":43.289},{"s":"r","k":"r4","x":14.747,"y":43.278},{"s":"r","k":"r4","x":14.769,"y":43.256},{"s":"r","k":"r4","x":14.775,"y":43.378},{"s":"r","k":"r4","x":14.78,"y":44.4},{"s":"r","k":"r4","x":14.786,"y":43.911},{"s":"r","k":"r4","x":14.797,"y":43.311},{"s":"r","k":"r4","x":14.813,"y":43.3},{"s":"r","k":"r4","x":14.83,"y":43.278},{"s":"r","k":"r4","x":14.841,"y":43.333},{"s":"r","k":"r4","x":14.852,"y":43.244},{"s":"r","k":"r4","x":14.863,"y":43.333},{"s":"r","k":"r4","x":14.874,"y":43.444},{"s":"r","k":"r4","x":14.885,"y":43.356},{"s":"r","k":"r4","x":14.896,"y":43.367},{"s":"r","k":"r4","x":14.907,"y":43.389},{"s":"r","k":"r4","x":14.923,"y":43.422},{"s":"r","k":"r4","x":14.934,"y":43.4},{"s":"r","k":"r4","x":14.945,"y":43.711},{"s":"r","k":"r4","x":14.951,"y":43.378}
],
"C2":[
{"s":"k","k":"k1","x":14.106,"y":43.711},{"s":"k","k":"k1","x":14.128,"y":43.707},{"s":"k","k":"k1","x":14.139,"y":43.733},{"s":"k","k":"k1","x":14.156,"y":43.7},{"s":"k","k":"k1","x":14.178,"y":43.678},{"s":"k","k":"k1","x":14.183,"y":43.711},{"s":"k","k":"k1","x":14.194,"y":43.667},{"s":"k","k":"k1","x":14.203,"y":44.022},{"s":"k","k":"k1","x":14.207,"y":43.733},{"s":"k","k":"k1","x":14.211,"y":43.644},
{"s":"k","k":"k2","x":14.236,"y":43.644},{"s":"k","k":"k2","x":14.254,"y":43.633},{"s":"k","k":"k2","x":14.282,"y":43.6},{"s":"k","k":"k2","x":14.304,"y":43.578},{"s":"k","k":"k2","x":14.326,"y":43.567},{"s":"k","k":"k2","x":14.342,"y":43.556},
{"s":"k","k":"k3","x":14.359,"y":43.533},{"s":"k","k":"k3","x":14.37,"y":43.833},{"s":"k","k":"k3","x":14.378,"y":43.544},{"s":"k","k":"k3","x":14.397,"y":43.522},{"s":"k","k":"k3","x":14.419,"y":43.511},{"s":"k","k":"k3","x":14.43,"y":43.489},{"s":"k","k":"k3","x":14.439,"y":44.133},{"s":"k","k":"k3","x":14.446,"y":43.511},{"s":"k","k":"k3","x":14.457,"y":43.467},{"s":"k","k":"k3","x":14.466,"y":43.5},{"s":"k","k":"k3","x":14.474,"y":43.644},{"s":"k","k":"k3","x":14.481,"y":43.489},{"s":"k","k":"k3","x":14.49,"y":43.456},{"s":"k","k":"k3","x":14.496,"y":43.556},{"s":"k","k":"k3","x":14.501,"y":43.467},{"s":"k","k":"k3","x":14.512,"y":43.6},{"s":"k","k":"k3","x":14.518,"y":43.511},{"s":"k","k":"k3","x":14.525,"y":43.489},{"s":"k","k":"k3","x":14.534,"y":43.533},{"s":"k","k":"k3","x":14.547,"y":43.689},{"s":"k","k":"k3","x":14.556,"y":43.578},{"s":"k","k":"k3","x":14.567,"y":43.611},{"s":"k","k":"k3","x":14.583,"y":43.589},
{"s":"k","k":"k4","x":14.613,"y":43.489},{"s":"k","k":"k4","x":14.62,"y":43.822},{"s":"k","k":"k4","x":14.627,"y":43.733},{"s":"k","k":"k4","x":14.635,"y":43.644},{"s":"k","k":"k4","x":14.644,"y":43.778},{"s":"k","k":"k4","x":14.652,"y":43.911},{"s":"k","k":"k4","x":14.658,"y":44.4},{"s":"k","k":"k4","x":14.666,"y":43.778},{"s":"k","k":"k4","x":14.677,"y":43.711},{"s":"k","k":"k4","x":14.688,"y":43.733},{"s":"k","k":"k4","x":14.698,"y":43.844},{"s":"k","k":"k4","x":14.707,"y":43.778},{"s":"k","k":"k4","x":14.718,"y":43.889},{"s":"k","k":"k4","x":14.731,"y":43.778},{"s":"k","k":"k4","x":14.745,"y":43.8},{"s":"k","k":"k4","x":14.759,"y":43.822},{"s":"k","k":"k4","x":14.77,"y":43.844},{"s":"k","k":"k4","x":14.777,"y":44.4},{"s":"k","k":"k4","x":14.786,"y":44.289},{"s":"k","k":"k4","x":14.795,"y":44.022},{"s":"k","k":"k4","x":14.808,"y":43.978},{"s":"k","k":"k4","x":14.819,"y":44.022},{"s":"k","k":"k4","x":14.83,"y":43.911},{"s":"k","k":"k4","x":14.839,"y":44.167},{"s":"k","k":"k4","x":14.846,"y":43.933},{"s":"k","k":"k4","x":14.857,"y":44.044},{"s":"k","k":"k4","x":14.868,"y":44.133},{"s":"k","k":"k4","x":14.874,"y":44.022},{"s":"k","k":"k4","x":14.885,"y":44.089},{"s":"k","k":"k4","x":14.896,"y":44.133},{"s":"k","k":"k4","x":14.905,"y":44.3},{"s":"k","k":"k4","x":14.909,"y":44.2},{"s":"k","k":"k4","x":14.918,"y":44.222},{"s":"k","k":"k4","x":14.927,"y":44.167},
{"s":"r","k":"r1","x":14.106,"y":43.622},{"s":"r","k":"r1","x":14.128,"y":43.622},{"s":"r","k":"r1","x":14.139,"y":43.644},{"s":"r","k":"r1","x":14.156,"y":43.611},{"s":"r","k":"r1","x":14.178,"y":43.589},{"s":"r","k":"r1","x":14.183,"y":43.644},{"s":"r","k":"r1","x":14.194,"y":43.567},{"s":"r","k":"r1","x":14.203,"y":43.933},{"s":"r","k":"r1","x":14.211,"y":43.389},
{"s":"r","k":"r2","x":14.236,"y":43.511},{"s":"r","k":"r2","x":14.254,"y":43.5},{"s":"r","k":"r2","x":14.282,"y":43.467},{"s":"r","k":"r2","x":14.304,"y":43.433},{"s":"r","k":"r2","x":14.326,"y":43.4},{"s":"r","k":"r2","x":14.342,"y":43.356},
{"s":"r","k":"r3","x":14.359,"y":43.333},{"s":"r","k":"r3","x":14.37,"y":43.711},{"s":"r","k":"r3","x":14.378,"y":43.356},{"s":"r","k":"r3","x":14.397,"y":43.333},{"s":"r","k":"r3","x":14.419,"y":43.311},{"s":"r","k":"r3","x":14.43,"y":43.311},{"s":"r","k":"r3","x":14.439,"y":43.956},{"s":"r","k":"r3","x":14.446,"y":43.333},{"s":"r","k":"r3","x":14.457,"y":43.267},{"s":"r","k":"r3","x":14.466,"y":43.333},{"s":"r","k":"r3","x":14.474,"y":43.511},{"s":"r","k":"r3","x":14.481,"y":43.267},{"s":"r","k":"r3","x":14.49,"y":43.233},{"s":"r","k":"r3","x":14.496,"y":43.422},{"s":"r","k":"r3","x":14.501,"y":43.267},{"s":"r","k":"r3","x":14.512,"y":43.422},{"s":"r","k":"r3","x":14.518,"y":43.333},{"s":"r","k":"r3","x":14.525,"y":43.311},{"s":"r","k":"r3","x":14.534,"y":43.378},{"s":"r","k":"r3","x":14.545,"y":43.489},{"s":"r","k":"r3","x":14.556,"y":43.4},{"s":"r","k":"r3","x":14.567,"y":43.367},{"s":"r","k":"r3","x":14.583,"y":43.444},
{"s":"r","k":"r4","x":14.62,"y":43.467},{"s":"r","k":"r4","x":14.627,"y":43.333},{"s":"r","k":"r4","x":14.635,"y":43.422},{"s":"r","k":"r4","x":14.644,"y":43.556},{"s":"r","k":"r4","x":14.652,"y":43.622},{"s":"r","k":"r4","x":14.658,"y":44.4},{"s":"r","k":"r4","x":14.666,"y":43.6},{"s":"r","k":"r4","x":14.677,"y":43.533},{"s":"r","k":"r4","x":14.688,"y":43.467},{"s":"r","k":"r4","x":14.698,"y":43.556},{"s":"r","k":"r4","x":14.707,"y":43.6},{"s":"r","k":"r4","x":14.718,"y":43.622},{"s":"r","k":"r4","x":14.731,"y":43.6},{"s":"r","k":"r4","x":14.745,"y":43.622},{"s":"r","k":"r4","x":14.759,"y":43.644},{"s":"r","k":"r4","x":14.77,"y":43.667},{"s":"r","k":"r4","x":14.777,"y":44.4},{"s":"r","k":"r4","x":14.786,"y":44.056},{"s":"r","k":"r4","x":14.795,"y":43.711},{"s":"r","k":"r4","x":14.803,"y":43.689},{"s":"r","k":"r4","x":14.814,"y":43.733},{"s":"r","k":"r4","x":14.825,"y":43.7},{"s":"r","k":"r4","x":14.836,"y":43.822},{"s":"r","k":"r4","x":14.846,"y":43.722},{"s":"r","k":"r4","x":14.857,"y":43.733},{"s":"r","k":"r4","x":14.868,"y":43.789},{"s":"r","k":"r4","x":14.879,"y":43.822},{"s":"r","k":"r4","x":14.89,"y":43.867},{"s":"r","k":"r4","x":14.901,"y":43.889},{"s":"r","k":"r4","x":14.909,"y":44.044},{"s":"r","k":"r4","x":14.918,"y":43.911},{"s":"r","k":"r4","x":14.929,"y":43.933},{"s":"r","k":"r4","x":14.94,"y":43.967},{"s":"r","k":"r4","x":14.945,"y":44.222},{"s":"r","k":"r4","x":14.951,"y":43.911}
]
},
"bounds":"flush",
"columns":2,
"spacing":{"row":43,"column":0},
"concat":[
{"width":334,"height":194,"title":{"text":"Ark 120 (z=0.033)","anchor":"end","align":"center","baseline":"alphabetic","offset":-1,"fontSize":14,"font":"DejaVu Serif","fontWeight":"normal","color":"#111"},
"layer":[
{"data":{"name":"A1"},"mark":{"type":"line"},"encoding":{
"x":{"field":"x","type":"quantitative","scale":{"domain":[14,15.1],"nice":false,"zero":false},"axis":{"orient":"bottom","values":[14,14.2,14.4,14.6,14.8,15],"tickSize":-7,"tickColor":"#999","tickWidth":1.5,"labels":false,"title":null}},
"y":{"field":"y","type":"quantitative","scale":{"domain":[43.3,45.1],"nice":false,"zero":false},"axis":{"orient":"left","values":[43.5,44,44.5,45],"tickSize":-7,"tickColor":"#999","tickWidth":1.5,"labelAngle":-90,"labelPadding":11,"title":null}},
"color":{"field":"s","type":"nominal","scale":{"domain":["k","b","r","g"],"range":["#000000","#0000ff","#ff0000","#00ff00"]},"legend":null},
"detail":{"field":"k","type":"nominal"}}},
{"data":{"values":[{}]},"mark":{"type":"point","opacity":0},"encoding":{
"x":{"datum":14.5,"type":"quantitative","scale":{"domain":[14,15.1],"nice":false,"zero":false},"axis":{"orient":"bottom","values":[14.1,14.3,14.5,14.7,14.9],"tickSize":-4,"tickColor":"#222","labels":false,"title":null}},
"y":{"datum":44,"type":"quantitative","scale":{"domain":[43.3,45.1],"nice":false,"zero":false},"axis":{"orient":"left","values":[43.4,43.6,43.7,43.8,43.9,44.1,44.2,44.3,44.4,44.6,44.7,44.8,44.9,45.0],"tickSize":-4,"tickColor":"#222","labels":false,"title":null}}}},
{"data":{"values":[{}]},"mark":{"type":"point","opacity":0},"encoding":{
"x":{"datum":14.5,"type":"quantitative","scale":{"domain":[14,15.1],"nice":false,"zero":false},"axis":{"orient":"top","values":[14,14.2,14.4,14.6,14.8,15],"tickSize":-7,"tickColor":"#999","tickWidth":1.5,"labels":false,"title":null}},
"y":{"datum":44,"type":"quantitative","scale":{"domain":[43.3,45.1],"nice":false,"zero":false},"axis":{"orient":"right","values":[43.5,44,44.5,45],"tickSize":-7,"tickColor":"#999","tickWidth":1.5,"labels":false,"title":null}}}},
{"data":{"values":[{}]},"mark":{"type":"point","opacity":0},"encoding":{
"x":{"datum":14.5,"type":"quantitative","scale":{"domain":[14,15.1],"nice":false,"zero":false},"axis":{"orient":"top","values":[14.1,14.3,14.5,14.7,14.9],"tickSize":-4,"tickColor":"#222","labels":false,"title":null}},
"y":{"datum":44,"type":"quantitative","scale":{"domain":[43.3,45.1],"nice":false,"zero":false},"axis":{"orient":"right","values":[43.4,43.6,43.7,43.8,43.9,44.1,44.2,44.3,44.4,44.6,44.7,44.8,44.9,45.0],"tickSize":-4,"tickColor":"#222","labels":false,"title":null}}}}
],
"resolve":{"axis":{"x":"independent","y":"independent"}}},
{"width":334,"height":194,
"layer":[
{"data":{"name":"A2"},"mark":{"type":"line"},"encoding":{
"x":{"field":"x","type":"quantitative","scale":{"domain":[14,15.1],"nice":false,"zero":false},"axis":{"orient":"bottom","values":[14,14.2,14.4,14.6,14.8,15],"tickSize":-7,"tickColor":"#999","tickWidth":1.5,"labels":false,"title":null}},
"y":{"field":"y","type":"quantitative","scale":{"domain":[43.3,45.1],"nice":false,"zero":false},"axis":{"orient":"left","values":[43.5,44,44.5,45],"tickSize":-7,"tickColor":"#999","tickWidth":1.5,"labels":false,"title":null}},
"color":{"field":"s","type":"nominal","scale":{"domain":["k","b","r","g"],"range":["#000000","#0000ff","#ff0000","#00ff00"]},"legend":null},
"detail":{"field":"k","type":"nominal"}}},
{"data":{"values":[{}]},"mark":{"type":"point","opacity":0},"encoding":{
"x":{"datum":14.5,"type":"quantitative","scale":{"domain":[14,15.1],"nice":false,"zero":false},"axis":{"orient":"bottom","values":[14.1,14.3,14.5,14.7,14.9],"tickSize":-4,"tickColor":"#222","labels":false,"title":null}},
"y":{"datum":44,"type":"quantitative","scale":{"domain":[43.3,45.1],"nice":false,"zero":false},"axis":{"orient":"left","values":[43.4,43.6,43.7,43.8,43.9,44.1,44.2,44.3,44.4,44.6,44.7,44.8,44.9,45.0],"tickSize":-4,"tickColor":"#222","labels":false,"title":null}}}},
{"data":{"values":[{}]},"mark":{"type":"point","opacity":0},"encoding":{
"x":{"datum":14.5,"type":"quantitative","scale":{"domain":[14,15.1],"nice":false,"zero":false},"axis":{"orient":"top","values":[14,14.2,14.4,14.6,14.8,15],"tickSize":-7,"tickColor":"#999","tickWidth":1.5,"labels":false,"title":null}},
"y":{"datum":44,"type":"quantitative","scale":{"domain":[43.3,45.1],"nice":false,"zero":false},"axis":{"orient":"right","values":[43.5,44,44.5,45],"tickSize":-7,"tickColor":"#999","tickWidth":1.5,"labels":false,"title":null}}}},
{"data":{"values":[{}]},"mark":{"type":"point","opacity":0},"encoding":{
"x":{"datum":14.5,"type":"quantitative","scale":{"domain":[14,15.1],"nice":false,"zero":false},"axis":{"orient":"top","values":[14.1,14.3,14.5,14.7,14.9],"tickSize":-4,"tickColor":"#222","labels":false,"title":null}},
"y":{"datum":44,"type":"quantitative","scale":{"domain":[43.3,45.1],"nice":false,"zero":false},"axis":{"orient":"right","values":[43.4,43.6,43.7,43.8,43.9,44.1,44.2,44.3,44.4,44.6,44.7,44.8,44.9,45.0],"tickSize":-4,"tickColor":"#222","labels":false,"title":null}}}}
],
"resolve":{"axis":{"x":"independent","y":"independent"}}},
{"width":334,"height":194,"title":{"text":"Mrk 817 (z=0.031)","anchor":"end","align":"center","baseline":"alphabetic","offset":-1,"fontSize":14,"font":"DejaVu Serif","fontWeight":"normal","color":"#111"},
"layer":[
{"data":{"name":"B1"},"mark":{"type":"line"},"encoding":{
"x":{"field":"x","type":"quantitative","scale":{"domain":[14,15.1],"nice":false,"zero":false},"axis":{"orient":"bottom","values":[14,14.2,14.4,14.6,14.8,15],"tickSize":-7,"tickColor":"#999","tickWidth":1.5,"labels":false,"title":null}},
"y":{"field":"y","type":"quantitative","scale":{"domain":[43.5,44.6],"nice":false,"zero":false},"axis":{"orient":"left","values":[43.5,44,44.5],"tickSize":-7,"tickColor":"#999","tickWidth":1.5,"labelAngle":-90,"labelPadding":11,"title":"log ν Lᵥ [erg s⁻¹]","titleX":-53,"titleY":103,"titleAngle":-90,"titleAlign":"center","titleBaseline":"middle"}},
"color":{"field":"s","type":"nominal","scale":{"domain":["k","b","r","g"],"range":["#000000","#0000ff","#ff0000","#00ff00"]},"legend":null},
"detail":{"field":"k","type":"nominal"}}},
{"data":{"values":[{}]},"mark":{"type":"point","opacity":0},"encoding":{
"x":{"datum":14.5,"type":"quantitative","scale":{"domain":[14,15.1],"nice":false,"zero":false},"axis":{"orient":"bottom","values":[14.1,14.3,14.5,14.7,14.9],"tickSize":-4,"tickColor":"#222","labels":false,"title":null}},
"y":{"datum":44,"type":"quantitative","scale":{"domain":[43.5,44.6],"nice":false,"zero":false},"axis":{"orient":"left","values":[43.6,43.7,43.8,43.9,44.1,44.2,44.3,44.4],"tickSize":-4,"tickColor":"#222","labels":false,"title":null}}}},
{"data":{"values":[{}]},"mark":{"type":"point","opacity":0},"encoding":{
"x":{"datum":14.5,"type":"quantitative","scale":{"domain":[14,15.1],"nice":false,"zero":false},"axis":{"orient":"top","values":[14,14.2,14.4,14.6,14.8,15],"tickSize":-7,"tickColor":"#999","tickWidth":1.5,"labels":false,"title":null}},
"y":{"datum":44,"type":"quantitative","scale":{"domain":[43.5,44.6],"nice":false,"zero":false},"axis":{"orient":"right","values":[43.5,44,44.5],"tickSize":-7,"tickColor":"#999","tickWidth":1.5,"labels":false,"title":null}}}},
{"data":{"values":[{}]},"mark":{"type":"point","opacity":0},"encoding":{
"x":{"datum":14.5,"type":"quantitative","scale":{"domain":[14,15.1],"nice":false,"zero":false},"axis":{"orient":"top","values":[14.1,14.3,14.5,14.7,14.9],"tickSize":-4,"tickColor":"#222","labels":false,"title":null}},
"y":{"datum":44,"type":"quantitative","scale":{"domain":[43.5,44.6],"nice":false,"zero":false},"axis":{"orient":"right","values":[43.6,43.7,43.8,43.9,44.1,44.2,44.3,44.4],"tickSize":-4,"tickColor":"#222","labels":false,"title":null}}}}
],
"resolve":{"axis":{"x":"independent","y":"independent"}}},
{"width":334,"height":194,
"layer":[
{"data":{"name":"B2"},"mark":{"type":"line"},"encoding":{
"x":{"field":"x","type":"quantitative","scale":{"domain":[14,15.1],"nice":false,"zero":false},"axis":{"orient":"bottom","values":[14,14.2,14.4,14.6,14.8,15],"tickSize":-7,"tickColor":"#999","tickWidth":1.5,"labels":false,"title":null}},
"y":{"field":"y","type":"quantitative","scale":{"domain":[43.5,44.6],"nice":false,"zero":false},"axis":{"orient":"left","values":[43.5,44,44.5],"tickSize":-7,"tickColor":"#999","tickWidth":1.5,"labels":false,"title":null}},
"color":{"field":"s","type":"nominal","scale":{"domain":["k","b","r","g"],"range":["#000000","#0000ff","#ff0000","#00ff00"]},"legend":null},
"detail":{"field":"k","type":"nominal"}}},
{"data":{"values":[{}]},"mark":{"type":"point","opacity":0},"encoding":{
"x":{"datum":14.5,"type":"quantitative","scale":{"domain":[14,15.1],"nice":false,"zero":false},"axis":{"orient":"bottom","values":[14.1,14.3,14.5,14.7,14.9],"tickSize":-4,"tickColor":"#222","labels":false,"title":null}},
"y":{"datum":44,"type":"quantitative","scale":{"domain":[43.5,44.6],"nice":false,"zero":false},"axis":{"orient":"left","values":[43.6,43.7,43.8,43.9,44.1,44.2,44.3,44.4],"tickSize":-4,"tickColor":"#222","labels":false,"title":null}}}},
{"data":{"values":[{}]},"mark":{"type":"point","opacity":0},"encoding":{
"x":{"datum":14.5,"type":"quantitative","scale":{"domain":[14,15.1],"nice":false,"zero":false},"axis":{"orient":"top","values":[14,14.2,14.4,14.6,14.8,15],"tickSize":-7,"tickColor":"#999","tickWidth":1.5,"labels":false,"title":null}},
"y":{"datum":44,"type":"quantitative","scale":{"domain":[43.5,44.6],"nice":false,"zero":false},"axis":{"orient":"right","values":[43.5,44,44.5],"tickSize":-7,"tickColor":"#999","tickWidth":1.5,"labels":false,"title":null}}}},
{"data":{"values":[{}]},"mark":{"type":"point","opacity":0},"encoding":{
"x":{"datum":14.5,"type":"quantitative","scale":{"domain":[14,15.1],"nice":false,"zero":false},"axis":{"orient":"top","values":[14.1,14.3,14.5,14.7,14.9],"tickSize":-4,"tickColor":"#222","labels":false,"title":null}},
"y":{"datum":44,"type":"quantitative","scale":{"domain":[43.5,44.6],"nice":false,"zero":false},"axis":{"orient":"right","values":[43.6,43.7,43.8,43.9,44.1,44.2,44.3,44.4],"tickSize":-4,"tickColor":"#222","labels":false,"title":null}}}}
],
"resolve":{"axis":{"x":"independent","y":"independent"}}},
{"width":334,"height":194,"title":{"text":"Mrk 290 (z=0.030)","anchor":"end","align":"center","baseline":"alphabetic","offset":-1,"fontSize":14,"font":"DejaVu Serif","fontWeight":"normal","color":"#111"},
"layer":[
{"data":{"name":"C1"},"mark":{"type":"line"},"encoding":{
"x":{"field":"x","type":"quantitative","scale":{"domain":[14,15.1],"nice":false,"zero":false},"axis":{"orient":"bottom","values":[14,14.2,14.4,14.6,14.8,15],"tickSize":-7,"tickColor":"#999","tickWidth":1.5,"labelPadding":14,"title":"log νᵣₑₛₜ [Hz]","titleX":334,"titleY":39,"titleAlign":"center","titleBaseline":"alphabetic"}},
"y":{"field":"y","type":"quantitative","scale":{"domain":[43.1,44.4],"nice":false,"zero":false},"axis":{"orient":"left","values":[43.5,44],"tickSize":-7,"tickColor":"#999","tickWidth":1.5,"labelAngle":-90,"labelPadding":11,"title":null}},
"color":{"field":"s","type":"nominal","scale":{"domain":["k","b","r","g"],"range":["#000000","#0000ff","#ff0000","#00ff00"]},"legend":null},
"detail":{"field":"k","type":"nominal"}}},
{"data":{"values":[{}]},"mark":{"type":"point","opacity":0},"encoding":{
"x":{"datum":14.5,"type":"quantitative","scale":{"domain":[14,15.1],"nice":false,"zero":false},"axis":{"orient":"bottom","values":[14.1,14.3,14.5,14.7,14.9],"tickSize":-4,"tickColor":"#222","labels":false,"title":null}},
"y":{"datum":44,"type":"quantitative","scale":{"domain":[43.1,44.4],"nice":false,"zero":false},"axis":{"orient":"left","values":[43.2,43.3,43.4,43.6,43.7,43.8,43.9,44.1,44.2,44.3],"tickSize":-4,"tickColor":"#222","labels":false,"title":null}}}},
{"data":{"values":[{}]},"mark":{"type":"point","opacity":0},"encoding":{
"x":{"datum":14.5,"type":"quantitative","scale":{"domain":[14,15.1],"nice":false,"zero":false},"axis":{"orient":"top","values":[14,14.2,14.4,14.6,14.8,15],"tickSize":-7,"tickColor":"#999","tickWidth":1.5,"labels":false,"title":null}},
"y":{"datum":44,"type":"quantitative","scale":{"domain":[43.1,44.4],"nice":false,"zero":false},"axis":{"orient":"right","values":[43.5,44],"tickSize":-7,"tickColor":"#999","tickWidth":1.5,"labels":false,"title":null}}}},
{"data":{"values":[{}]},"mark":{"type":"point","opacity":0},"encoding":{
"x":{"datum":14.5,"type":"quantitative","scale":{"domain":[14,15.1],"nice":false,"zero":false},"axis":{"orient":"top","values":[14.1,14.3,14.5,14.7,14.9],"tickSize":-4,"tickColor":"#222","labels":false,"title":null}},
"y":{"datum":44,"type":"quantitative","scale":{"domain":[43.1,44.4],"nice":false,"zero":false},"axis":{"orient":"right","values":[43.2,43.3,43.4,43.6,43.7,43.8,43.9,44.1,44.2,44.3],"tickSize":-4,"tickColor":"#222","labels":false,"title":null}}}}
],
"resolve":{"axis":{"x":"independent","y":"independent"}}},
{"width":334,"height":194,
"layer":[
{"data":{"name":"C2"},"mark":{"type":"line"},"encoding":{
"x":{"field":"x","type":"quantitative","scale":{"domain":[14,15.1],"nice":false,"zero":false},"axis":{"orient":"bottom","values":[14,14.2,14.4,14.6,14.8,15],"tickSize":-7,"tickColor":"#999","tickWidth":1.5,"labelPadding":14,"title":null}},
"y":{"field":"y","type":"quantitative","scale":{"domain":[43.1,44.4],"nice":false,"zero":false},"axis":{"orient":"left","values":[43.5,44],"tickSize":-7,"tickColor":"#999","tickWidth":1.5,"labels":false,"title":null}},
"color":{"field":"s","type":"nominal","scale":{"domain":["k","b","r","g"],"range":["#000000","#0000ff","#ff0000","#00ff00"]},"legend":null},
"detail":{"field":"k","type":"nominal"}}},
{"data":{"values":[{}]},"mark":{"type":"point","opacity":0},"encoding":{
"x":{"datum":14.5,"type":"quantitative","scale":{"domain":[14,15.1],"nice":false,"zero":false},"axis":{"orient":"bottom","values":[14.1,14.3,14.5,14.7,14.9],"tickSize":-4,"tickColor":"#222","labels":false,"title":null}},
"y":{"datum":44,"type":"quantitative","scale":{"domain":[43.1,44.4],"nice":false,"zero":false},"axis":{"orient":"left","values":[43.2,43.3,43.4,43.6,43.7,43.8,43.9,44.1,44.2,44.3],"tickSize":-4,"tickColor":"#222","labels":false,"title":null}}}},
{"data":{"values":[{}]},"mark":{"type":"point","opacity":0},"encoding":{
"x":{"datum":14.5,"type":"quantitative","scale":{"domain":[14,15.1],"nice":false,"zero":false},"axis":{"orient":"top","values":[14,14.2,14.4,14.6,14.8,15],"tickSize":-7,"tickColor":"#999","tickWidth":1.5,"labels":false,"title":null}},
"y":{"datum":44,"type":"quantitative","scale":{"domain":[43.1,44.4],"nice":false,"zero":false},"axis":{"orient":"right","values":[43.5,44],"tickSize":-7,"tickColor":"#999","tickWidth":1.5,"labels":false,"title":null}}}},
{"data":{"values":[{}]},"mark":{"type":"point","opacity":0},"encoding":{
"x":{"datum":14.5,"type":"quantitative","scale":{"domain":[14,15.1],"nice":false,"zero":false},"axis":{"orient":"top","values":[14.1,14.3,14.5,14.7,14.9],"tickSize":-4,"tickColor":"#222","labels":false,"title":null}},
"y":{"datum":44,"type":"quantitative","scale":{"domain":[43.1,44.4],"nice":false,"zero":false},"axis":{"orient":"right","values":[43.2,43.3,43.4,43.6,43.7,43.8,43.9,44.1,44.2,44.3],"tickSize":-4,"tickColor":"#222","labels":false,"title":null}}}}
],
"resolve":{"axis":{"x":"independent","y":"independent"}}}
]
}
